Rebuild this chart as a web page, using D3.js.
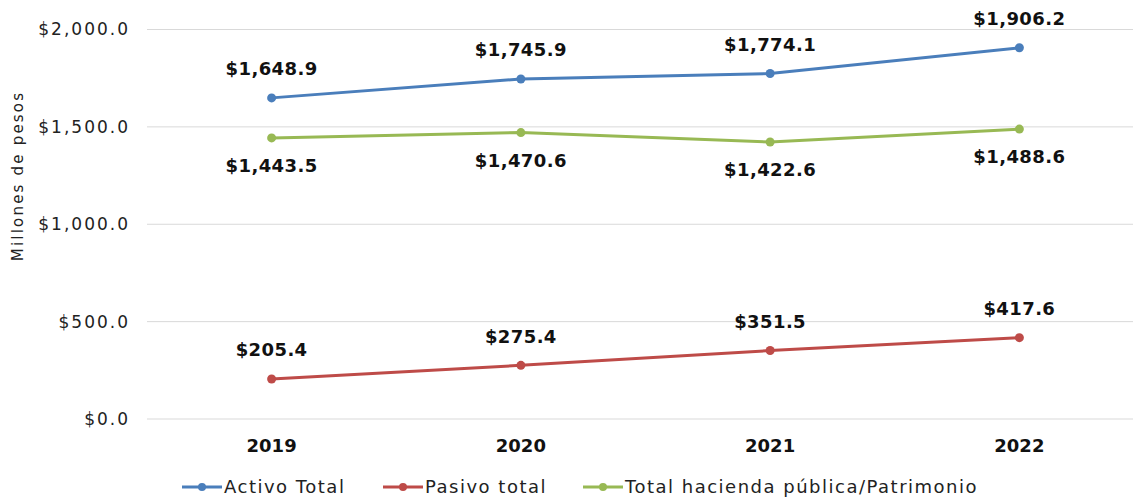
<!DOCTYPE html>
<html lang="es">
  <head>
    <meta charset="UTF-8" />
    <title>Activo, pasivo y hacienda pública</title>
    <script src="https://d3js.org/d3.v7.min.js"></script>
    <style>
      body { margin: 0; background: #fff; font-family: 'DejaVu Sans', sans-serif; }
      .tick-label { font-size: 17px; letter-spacing: 2px; fill: #222; }
      .year { font-size: 18px; font-weight: 700; fill: #111; }
      .val { font-size: 18px; font-weight: 700; letter-spacing: 0.4px; fill: #111; }
      .legend-text { font-size: 18px; letter-spacing: 1.5px; fill: #222; }
    </style>
  </head>
  <body>
    <svg width="1133" height="498"></svg>
    <script>
      const years = ['2019', '2020', '2021', '2022'];
      const activo = [1648.9, 1745.9, 1774.1, 1906.2];
      const pasivo = [205.4, 275.4, 351.5, 417.6];
      const hacienda = [1443.5, 1470.6, 1422.6, 1488.6];
      const yTicks = [0, 500, 1000, 1500, 2000];

      const series = [
        { name: 'Activo Total', values: activo, color: '#4a7ebb', pos: 'above' },
        { name: 'Pasivo total', values: pasivo, color: '#be4b48', pos: 'above' },
        { name: 'Total hacienda pública/Patrimonio', values: hacienda, color: '#98b954', pos: 'below' },
      ];

      const svg = d3.select('svg');

      const x = d3.scaleBand().domain(years).range([147, 1144]);
      const y = d3.scaleLinear().domain([0, 2000]).range([419, 29.5]);
      const fmt = (v) => '$' + d3.format(',.1f')(v);

      // grid
      svg.append('g')
        .selectAll('line')
        .data(yTicks)
        .join('line')
        .attr('x1', 147)
        .attr('x2', 1144)
        .attr('y1', (d) => y(d))
        .attr('y2', (d) => y(d))
        .attr('stroke', '#d9d9d9')
        .attr('stroke-width', 1);

      svg.append('g')
        .selectAll('text')
        .data(yTicks)
        .join('text')
        .attr('class', 'tick-label')
        .attr('x', 130)
        .attr('y', (d) => y(d))
        .attr('dy', '0.35em')
        .attr('text-anchor', 'end')
        .text(fmt);

      svg.append('g')
        .selectAll('text')
        .data(years)
        .join('text')
        .attr('class', 'year')
        .attr('x', (d) => x(d) + x.bandwidth() / 2)
        .attr('y', 446)
        .attr('dy', '0.35em')
        .attr('text-anchor', 'middle')
        .text((d) => d);

      svg.append('text')
        .attr('transform', 'rotate(-90)')
        .attr('x', -176)
        .attr('y', 18)
        .attr('dy', '0.35em')
        .attr('text-anchor', 'middle')
        .style('font-size', '15px')
        .style('letter-spacing', '2.2px')
        .style('fill', '#222')
        .text('Millones de pesos');

      const line = d3.line()
        .x((d, i) => x(years[i]) + x.bandwidth() / 2)
        .y((d) => y(d));

      series.forEach((s) => {
        const g = svg.append('g');
        g.append('path')
          .datum(s.values)
          .attr('d', line)
          .attr('fill', 'none')
          .attr('stroke', s.color)
          .attr('stroke-width', 3);
        g.selectAll('circle')
          .data(s.values)
          .join('circle')
          .attr('cx', (d, i) => x(years[i]) + x.bandwidth() / 2)
          .attr('cy', (d) => y(d))
          .attr('r', 4.5)
          .attr('fill', s.color);
        g.selectAll('text')
          .data(s.values)
          .join('text')
          .attr('class', 'val')
          .attr('x', (d, i) => x(years[i]) + x.bandwidth() / 2)
          .attr('y', (d) => y(d) + (s.pos === 'above' ? -29 : 28))
          .attr('dy', '0.35em')
          .attr('text-anchor', 'middle')
          .text(fmt);
      });

      // legend
      const legendX = [182, 383, 583];
      const lg = svg.append('g')
        .selectAll('g')
        .data(series)
        .join('g')
        .attr('transform', (d, i) => `translate(${legendX[i]},487)`);
      lg.append('line')
        .attr('x1', 0).attr('x2', 40)
        .attr('stroke', (d) => d.color)
        .attr('stroke-width', 3);
      lg.append('circle')
        .attr('cx', 20).attr('r', 4)
        .attr('fill', (d) => d.color);
      lg.append('text')
        .attr('class', 'legend-text')
        .attr('x', 42)
        .attr('dy', '0.35em')
        .text((d) => d.name);
    </script>
  </body>
</html>
